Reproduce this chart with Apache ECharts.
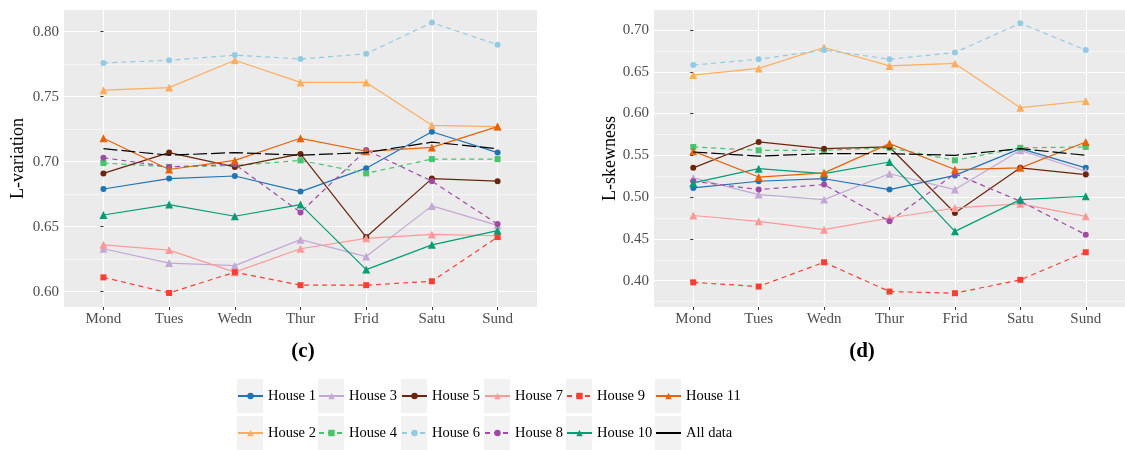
<!DOCTYPE html>
<html><head><meta charset="utf-8">
<script src="https://cdn.jsdelivr.net/npm/echarts@6/dist/echarts.min.js"></script>
<style>html,body{margin:0;padding:0;background:#fff}#c{width:1125px;height:450px}</style>
</head><body><div id="c"></div>
<script>
const days = ['Mond','Tues','Wedn','Thur','Frid','Satu','Sund'];
const dayIdx = [0,1,2,3,4,5,6];
const yTicksLeft = [0.60,0.65,0.70,0.75,0.80];
const yMinorLeft = [0.625,0.675,0.725,0.775];
const yTicksRight = [0.40,0.45,0.50,0.55,0.60,0.65,0.70];
const yMinorRight = [0.375,0.425,0.475,0.525,0.575,0.625,0.675];

// L-variation (c)
const lvH1  = [0.679,0.687,0.689,0.677,0.695,0.723,0.707];
const lvH2  = [0.755,0.757,0.778,0.761,0.761,0.728,0.727];
const lvH3  = [0.633,0.622,0.620,0.640,0.627,0.666,0.651];
const lvH4  = [0.699,0.696,0.697,0.701,0.691,0.702,0.702];
const lvH5  = [0.691,0.707,0.696,0.706,0.642,0.687,0.685];
const lvH6  = [0.776,0.778,0.782,0.779,0.783,0.807,0.790];
const lvH7  = [0.636,0.632,0.615,0.633,0.641,0.644,0.643];
const lvH8  = [0.703,0.696,0.698,0.661,0.709,0.685,0.652];
const lvH9  = [0.611,0.599,0.615,0.605,0.605,0.608,0.642];
const lvH10 = [0.659,0.667,0.658,0.667,0.617,0.636,0.647];
const lvH11 = [0.718,0.694,0.701,0.718,0.708,0.711,0.727];
const lvAll = [0.710,0.705,0.707,0.705,0.707,0.715,0.710];

// L-skewness (d)
const lsH1  = [0.511,0.519,0.522,0.509,0.526,0.558,0.535];
const lsH2  = [0.646,0.654,0.679,0.657,0.660,0.607,0.615];
const lsH3  = [0.523,0.503,0.497,0.528,0.509,0.556,0.531];
const lsH4  = [0.560,0.556,0.556,0.559,0.544,0.559,0.560];
const lsH5  = [0.535,0.566,0.558,0.560,0.481,0.535,0.527];
const lsH6  = [0.658,0.665,0.676,0.665,0.673,0.708,0.676];
const lsH7  = [0.478,0.471,0.461,0.475,0.487,0.492,0.477];
const lsH8  = [0.519,0.509,0.515,0.471,0.528,0.495,0.455];
const lsH9  = [0.398,0.393,0.422,0.387,0.385,0.401,0.434];
const lsH10 = [0.517,0.534,0.528,0.542,0.459,0.497,0.501];
const lsH11 = [0.555,0.524,0.529,0.564,0.533,0.535,0.566];
const lsAll = [0.554,0.549,0.552,0.552,0.550,0.558,0.550];

const names = ['House 1','House 2','House 3','House 4','House 5','House 6','House 7','House 8','House 9','House 10','House 11','All data'];
const lvData = [lvH1,lvH2,lvH3,lvH4,lvH5,lvH6,lvH7,lvH8,lvH9,lvH10,lvH11,lvAll];
const lsData = [lsH1,lsH2,lsH3,lsH4,lsH5,lsH6,lsH7,lsH8,lsH9,lsH10,lsH11,lsAll];

const styles = {
  'House 1':  {color:'#1f74b6', dash:'solid', sym:'circle'},
  'House 2':  {color:'#fdae61', dash:'solid', sym:'triangle'},
  'House 3':  {color:'#c4a8d4', dash:'solid', sym:'triangle'},
  'House 4':  {color:'#47c46e', dash:[5,4], sym:'rect'},
  'House 5':  {color:'#6b250c', dash:'solid', sym:'circle'},
  'House 6':  {color:'#92cbe3', dash:[5,4], sym:'circle'},
  'House 7':  {color:'#fb9a99', dash:'solid', sym:'triangle'},
  'House 8':  {color:'#a04aa6', dash:[5,4], sym:'circle'},
  'House 9':  {color:'#fc3d32', dash:[5,4], sym:'rect'},
  'House 10': {color:'#039e74', dash:'solid', sym:'triangle'},
  'House 11': {color:'#e8620a', dash:'solid', sym:'triangle'},
  'All data': {color:'#000000', dash:[14,4], sym:'none'}
};
const symSize = {circle:6, triangle:8, rect:6, none:0};

const FONT = '"Liberation Serif", "DejaVu Serif", serif';

function makeSeries(dataArr, gi) {
  return names.map((n, i) => {
    const s = styles[n];
    return {
      name: n, type: 'line', xAxisIndex: gi, yAxisIndex: gi*2,
      data: dataArr[i].map((v, k) => [dayIdx[k], v]),
      symbol: s.sym, symbolSize: symSize[s.sym], showSymbol: s.sym !== 'none',
      lineStyle: {color: s.color, width: 1.2, type: s.dash},
      itemStyle: {color: s.color},
      emphasis: {disabled: true}, animation: false,
      z: n === 'All data' ? 3 : 2
    };
  });
}

function xAx(gi) {
  return {
    type: 'value', gridIndex: gi, min: -0.6, max: 6.6,
    axisLine: {show: false},
    axisTick: {show: true, length: 3, lineStyle: {color: '#333'}, customValues: dayIdx},
    axisLabel: {customValues: dayIdx, formatter: v => days[Math.round(v)], color: '#4d4d4d',
      fontFamily: FONT, fontSize: 15, margin: 5},
    splitLine: {show: true, lineStyle: {color: '#ffffff', width: 1.1}}
  };
}
function yAx(gi, min, max, ticks, name, gap) {
  return {
    type: 'value', gridIndex: gi, min: min, max: max, position: 'left',
    name: name, nameLocation: 'middle', nameGap: gap, nameRotate: 90,
    nameTextStyle: {fontFamily: FONT, fontSize: 18, color: '#000'},
    axisLine: {show: false},
    axisTick: {show: true, length: 3, lineStyle: {color: '#333'}, customValues: ticks},
    axisLabel: {customValues: ticks, formatter: v => v.toFixed(2), color: '#4d4d4d',
      fontFamily: FONT, fontSize: 15, margin: 5},
    splitLine: {show: true, lineStyle: {color: '#ffffff', width: 1.1}}
  };
}
function yMinor(gi, min, max, ticks) {
  return {
    type: 'value', gridIndex: gi, min: min, max: max, position: 'right',
    axisLine: {show: false},
    axisTick: {show: false, customValues: ticks},
    axisLabel: {show: false, customValues: ticks},
    splitLine: {show: true, lineStyle: {color: '#ffffff', width: 0.55}}
  };
}

const legendCols = [['House 1','House 2'],['House 3','House 4'],['House 5','House 6'],
                    ['House 7','House 8'],['House 9','House 10'],['House 11','All data']];
const colLeft = [237, 318, 401, 484, 566, 655];

const legends = legendCols.map((d, i) => ({
  data: d.map(n => n === 'All data'
    ? {name: n, itemStyle: {opacity: 0}, lineStyle: {type: 'solid', width: 2}}
    : {name: n}),
  orient: 'vertical', left: colLeft[i], top: 388, padding: 0,
  itemWidth: 25, itemHeight: 8, itemGap: 21, selectedMode: false,
  lineStyle: {width: 2},
  textStyle: {fontFamily: FONT, fontSize: 14.5, color: '#000', lineHeight: 16}
}));

const keyRects = [];
colLeft.forEach(x => {
  [379, 416].forEach(y => keyRects.push({type: 'rect', shape: {x: x, y: y, width: 26, height: 34},
    style: {fill: '#f2f2f2'}, z: 0, silent: true}));
});

const chart = echarts.init(document.getElementById('c'), null, {renderer: 'canvas'});
chart.setOption({
  animation: false,
  backgroundColor: '#ffffff',
  grid: [
    {left: 64, top: 10, width: 473, height: 297, show: true, backgroundColor: '#ebebeb', borderWidth: 0},
    {left: 654, top: 10, width: 474, height: 297, show: true, backgroundColor: '#ebebeb', borderWidth: 0}
  ],
  xAxis: [xAx(0), xAx(1)],
  yAxis: [
    yAx(0, 0.5882, 0.8167, yTicksLeft, 'L-variation', 37),
    yMinor(0, 0.5882, 0.8167, yMinorLeft),
    yAx(1, 0.3685, 0.7239, yTicksRight, 'L-skewness', 33),
    yMinor(1, 0.3685, 0.7239, yMinorRight)
  ],
  legend: legends,
  graphic: keyRects.concat([
    {type: 'text', x: 303, y: 352, style: {text: '(c)', font: 'bold 21px ' + FONT, align: 'center', verticalAlign: 'middle', fill: '#000'}},
    {type: 'text', x: 862, y: 352, style: {text: '(d)', font: 'bold 21px ' + FONT, align: 'center', verticalAlign: 'middle', fill: '#000'}}
  ]),
  series: makeSeries(lvData, 0).concat(makeSeries(lsData, 1))
});
</script>
</body></html>
